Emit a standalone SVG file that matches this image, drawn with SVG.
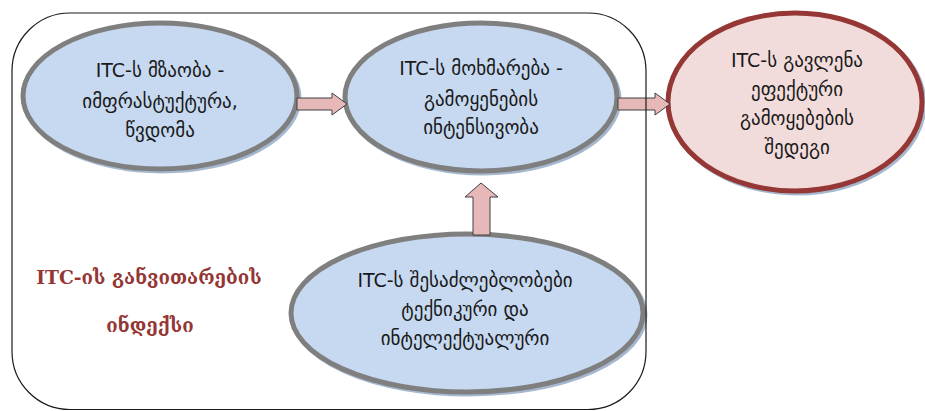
<svg xmlns="http://www.w3.org/2000/svg" width="925" height="411" viewBox="0 0 925 411">
<style>
.blue{fill:#c6d9f1;stroke:#7f7f7f;stroke-width:5}
.red{fill:#f2dcdb;stroke:#953735;stroke-width:5}
.shadow{fill:none;stroke:#a6b8d0;stroke-width:5}
.arrow{fill:#e6b9b8;stroke:#404040;stroke-width:1}
.t{font-family:"DejaVu Sans",sans-serif;font-size:19px;fill:#1a1a1a;text-anchor:middle}
.lbl{font-family:"DejaVu Serif",serif;font-size:18.7px;font-weight:bold;fill:#943634;text-anchor:middle}
</style>
<rect width="925" height="411" fill="#ffffff"/>
<g id="node-readiness">
<ellipse class="shadow" cx="162" cy="98" rx="137" ry="73"/>
<ellipse class="blue" cx="160" cy="96" rx="137" ry="73"/>
<text class="t" x="160" y="77">ITC-ს მზაობა -</text>
<text class="t" x="160" y="108">იმფრასტუქტურა,</text>
<text class="t" x="160" y="137">წვდომა</text>
</g>
<g id="node-usage">
<ellipse class="shadow" cx="483" cy="99" rx="136" ry="74"/>
<ellipse class="blue" cx="481" cy="97" rx="136" ry="74"/>
<text class="t" x="481" y="75">ITC-ს მოხმარება -</text>
<text class="t" x="481" y="106">გამოყენების</text>
<text class="t" x="481" y="134">ინტენსივობა</text>
</g>
<g id="node-impact">
<ellipse class="shadow" cx="797" cy="104" rx="127" ry="89"/>
<ellipse class="red" cx="795" cy="102" rx="127" ry="89"/>
<text class="t" x="797" y="67">ITC-ს გავლენა</text>
<text class="t" x="797" y="96">ეფექტური</text>
<text class="t" x="797" y="125">გამოყებების</text>
<text class="t" x="797" y="154">შედეგი</text>
</g>
<g id="node-capabilities">
<ellipse class="shadow" cx="469" cy="315" rx="176" ry="79"/>
<ellipse class="blue" cx="467" cy="313" rx="176" ry="79"/>
<text class="t" x="465" y="287">ITC-ს შესაძლებლობები</text>
<text class="t" x="465" y="316">ტექნიკური და</text>
<text class="t" x="465" y="345">ინტელექტუალური</text>
</g>
<g id="connectors">
<path class="arrow" d="M297,98 H332 V93 L347,104 L332,115 V110 H297 Z"/>
<path class="arrow" d="M618,98 H655 V93 L670,104 L655,115 V110 H618 Z"/>
<path class="arrow" d="M473,235 V197 H465 L481,183 L498,197 H490 V235 Z"/>
</g>
<g id="container-index">
<rect x="12" y="13" width="634" height="396.5" rx="58" ry="58" fill="none" stroke="#1a1a1a" stroke-width="1.2"/>
<text class="lbl" x="149" y="284">ITC-ის განვითარების</text>
<text class="lbl" x="150" y="332">ინდექსი</text>
</g>
</svg>
